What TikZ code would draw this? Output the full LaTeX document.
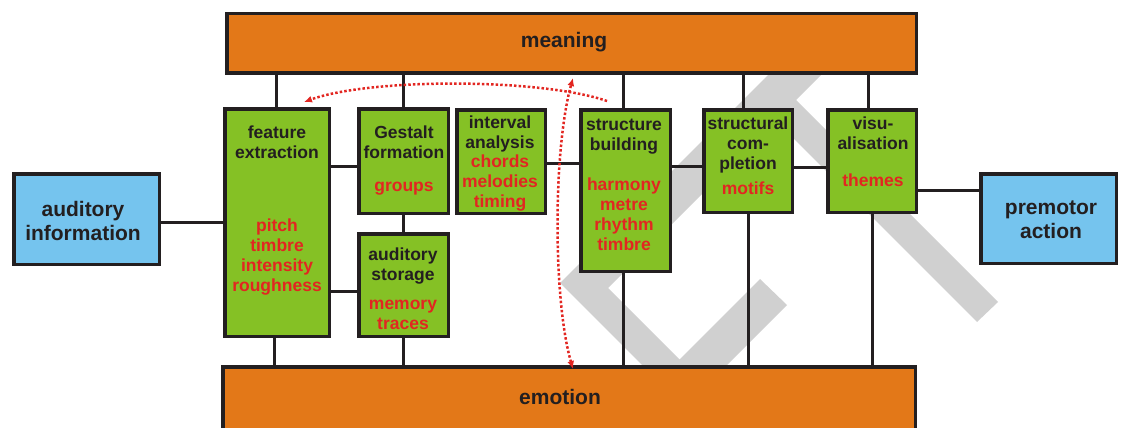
\documentclass[tikz,border=0pt]{standalone}
\usepackage{fontspec}
\setmainfont{Liberation Sans}
\usetikzlibrary{arrows.meta}
\definecolor{orangebox}{RGB}{227,120,24}
\definecolor{greenbox}{RGB}{133,193,37}
\definecolor{bluebox}{RGB}{117,196,238}
\definecolor{darkline}{RGB}{35,31,32}
\definecolor{redtext}{RGB}{226,38,33}
\definecolor{greyband}{RGB}{208,208,208}
\begin{document}
\begin{tikzpicture}[x=1pt,y=-1pt,
  box/.style={draw=darkline, line width=3.5pt, inner sep=0pt},
  obox/.style={box, fill=orangebox},
  gbox/.style={box, fill=greenbox},
  bbox/.style={box, fill=bluebox},
  conn/.style={draw=darkline, line width=3pt},
  ttl/.style={inner sep=0pt, align=center, text=darkline, yshift=-2.5pt, font=\bfseries\fontsize{17.5}{20}\selectfont},
  itm/.style={ttl, text=redtext},
  big/.style={inner sep=0pt, align=center, text=darkline, yshift=-2.5pt, font=\bfseries\fontsize{21}{24}\selectfont},
  redarr/.style={draw=redtext, line width=2.5pt, dash pattern=on 2.5pt off 2.1pt},
  tipr/.style={-{Latex[length=8pt,width=7pt]}}
]
\useasboundingbox (0,0) rectangle (1122,428);

% grey background band
\fill[greyband] (760,279) -- (787,305) -- (684.5,407.5) -- (560,283) -- (803,40)
  -- (856,40) -- (608,288) -- (679.5,359.5) -- cycle;
\fill[greyband] (762.5,107.5) -- (783,87) -- (998,302) -- (977,322) -- cycle;

% boxes
\node[obox, minimum width=689.5pt, minimum height=59.5pt] (mean) at (571.5,43.5) {};
\node[obox, minimum width=692.5pt, minimum height=76.5pt] (emo) at (569,405) {};
\node[bbox, minimum width=145.5pt, minimum height=90.5pt] (ai) at (86.5,219) {};
\node[bbox, minimum width=135.5pt, minimum height=89.5pt] (pa) at (1048.5,218.5) {};
\node[gbox, minimum width=104.5pt, minimum height=227.5pt] (fe) at (277,222.5) {};
\node[gbox, minimum width=89.5pt, minimum height=104.5pt] (gf) at (403.5,161) {};
\node[gbox, minimum width=89.5pt, minimum height=102.5pt] (as) at (403.5,285) {};
\node[gbox, minimum width=88.5pt, minimum height=103.5pt] (ia) at (501,161.5) {};
\node[gbox, minimum width=89.5pt, minimum height=161.5pt] (sb) at (625.5,190.5) {};
\node[gbox, minimum width=88.5pt, minimum height=102.5pt] (sc) at (748,161) {};
\node[gbox, minimum width=88.5pt, minimum height=102.5pt] (vi) at (872,161) {};

% vertical connectors
\draw[conn] ([xshift=-1pt]fe.north) -- ([xshift=-1pt]fe.north |- mean.south);
\draw[conn] ([xshift=-3pt]fe.south) -- ([xshift=-3pt]fe.south |- emo.north);
\draw[conn] (gf.north) -- (gf.north |- mean.south);
\draw[conn] (gf.south) -- (as.north);
\draw[conn] (as.south) -- (as.south |- emo.north);
\draw[conn] ([xshift=-2.5pt]sb.north) -- ([xshift=-2.5pt]sb.north |- mean.south);
\draw[conn] ([xshift=-2.5pt]sb.south) -- ([xshift=-2.5pt]sb.south |- emo.north);
\draw[conn] ([xshift=-5pt]sc.north) -- ([xshift=-5pt]sc.north |- mean.south);
\draw[conn] (sc.south) -- (sc.south |- emo.north);
\draw[conn] ([xshift=-4pt]vi.north) -- ([xshift=-4pt]vi.north |- mean.south);
\draw[conn] (vi.south) -- (vi.south |- emo.north);

% horizontal connectors
\draw[conn] ([yshift=-3pt]ai.east) -- ([yshift=-3pt]ai.east -| fe.west);
\draw[conn] ([yshift=-5pt]gf.west) -- ([yshift=-5pt]gf.west -| fe.east);
\draw[conn] ([yshift=-6pt]as.west) -- ([yshift=-6pt]as.west -| fe.east);
\draw[conn] ([yshift=-1.5pt]ia.east) -- ([yshift=-1.5pt]ia.east -| sb.west);
\draw[conn] ([yshift=-5pt]sc.west) -- ([yshift=-5pt]sc.west -| sb.east);
\draw[conn] ([yshift=-6pt]vi.west) -- ([yshift=-6pt]vi.west -| sc.east);
\draw[conn] ([yshift=-29pt]vi.east) -- ([yshift=-29pt]vi.east -| pa.west);

% texts
\node[big] (tmean) at (564,40) {\strut meaning};
\node[big] (temo) at (560,397) {\strut emotion};
\node[big] (tai) at (83,221) {\strut auditory\\information\strut};
\node[big] (tpa) at (1051,219) {\strut premotor\\action\strut};
\node[ttl] (tfe) at (277,142) {\strut feature\\extraction\strut};
\node[itm] (ife) at (277,255) {\strut pitch\\timbre\\intensity\\roughness\strut};
\node[ttl] (tgf) at (404,142) {\strut Gestalt\\formation\strut};
\node[itm] (igf) at (404,185) {\strut groups};
\node[ttl] (tas) at (403,264) {\strut auditory\\storage\strut};
\node[itm] (ias) at (403,312.5) {\strut memory\\traces\strut};
\node[ttl] (tia) at (500,132) {\strut interval\\analysis\strut};
\node[itm] (iia) at (500,181) {\strut chords\\melodies\\timing\strut};
\node[ttl] (tsb) at (624,134) {\strut structure\\building\strut};
\node[itm] (isb) at (624,214) {\strut harmony\\metre\\rhythm\\timbre\strut};
\node[ttl] (tsc) at (748,142.5) {\strut structural\\com-\\pletion\strut};
\node[itm] (isc) at (748,188) {\strut motifs};
\node[ttl] (tvi) at (873,132.5) {\strut visu-\\alisation\strut};
\node[itm] (ivi) at (873,180) {\strut themes};

% red dotted arrows
\coordinate (a1s) at (607,101);
\coordinate (a1e) at (304,102);
\draw[redarr, tipr] (a1s) .. controls (540,78) and (370,78) .. (a1e);
\coordinate (a2s) at (573,369);
\coordinate (a2e) at (573,78);
\draw[redarr, {Latex[length=8pt,width=7pt]}-{Latex[length=8pt,width=7pt]}] (a2s) .. controls (553,300) and (553,150) .. (a2e);
\end{tikzpicture}
\end{document}
